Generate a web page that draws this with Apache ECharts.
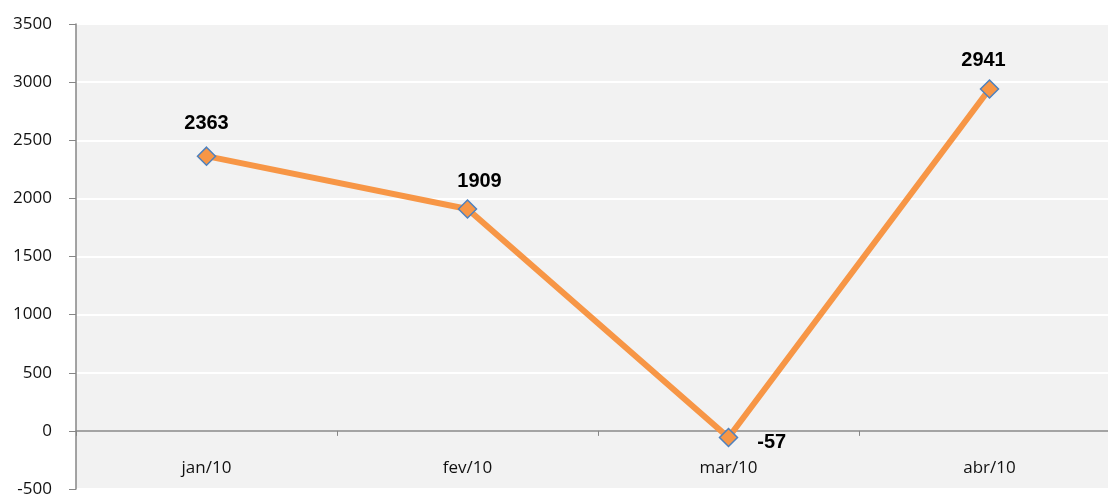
<!DOCTYPE html>
<html>
<head>
<meta charset="utf-8">
<script src="https://cdn.jsdelivr.net/npm/echarts@6/dist/echarts.min.js"></script>
<style>
  html, body { margin: 0; padding: 0; background: #fff; }
  #chart { width: 1108px; height: 498px; }
</style>
</head>
<body>
<div id="chart"></div>
<script>
// data
const months = ["jan/10", "fev/10", "mar/10", "abr/10"];
const values = [2363, 1909, -57, 2941];
const yTicks = { min: -500, max: 3500, step: 500 };

// label nudges, one per point
const labelOffsets = [[0, 1], [12, 6], [5, 5], [-6, 5]];
const labelPositions = ["top", "top", "right", "top"];

const chart = echarts.init(document.getElementById("chart"));

chart.setOption({
  animation: false,
  grid: {
    left: 76,
    top: 24,
    width: 1044,
    height: 465,
    outerBoundsMode: "none",
    containLabel: false,
    show: true,
    backgroundColor: "#f2f2f2",
    borderWidth: 0
  },
  xAxis: {
    type: "category",
    data: months,
    boundaryGap: true,
    axisLine: { onZero: true, lineStyle: { color: "#868686", width: 1.5 } },
    axisTick: { show: true, length: 5, lineStyle: { color: "#868686" } },
    axisLabel: {
      margin: -29, // labels sit inside the plot, above its bottom edge
      fontFamily: "Open Sans",
      fontSize: 17,
      color: "#111"
    },
    splitLine: { show: false }
  },
  yAxis: {
    type: "value",
    min: yTicks.min,
    max: yTicks.max,
    interval: yTicks.step,
    axisLine: { show: true, lineStyle: { color: "#868686", width: 1.5 } },
    axisTick: { show: true, length: 7, lineStyle: { color: "#868686" } },
    axisLabel: {
      margin: 24,
      fontFamily: "Open Sans",
      fontSize: 17,
      color: "#111",
      formatter: (v) => String(v)
    },
    splitLine: { show: true, lineStyle: { color: "#ffffff", width: 2 } }
  },
  series: [{
    type: "line",
    data: values.map((v, i) => ({
      value: v,
      label: { position: labelPositions[i], offset: labelOffsets[i] }
    })),
    lineStyle: { color: "#f79646", width: 6 },
    symbol: "diamond",
    symbolSize: 18,
    itemStyle: { color: "#f79646", borderColor: "#4f81bd", borderWidth: 1.5 },
    label: {
      show: true,
      distance: 14,
      fontFamily: "Liberation Sans",
      fontWeight: "bold",
      fontSize: 20,
      color: "#000"
    },
    z: 3
  }]
});
</script>
</body>
</html>
